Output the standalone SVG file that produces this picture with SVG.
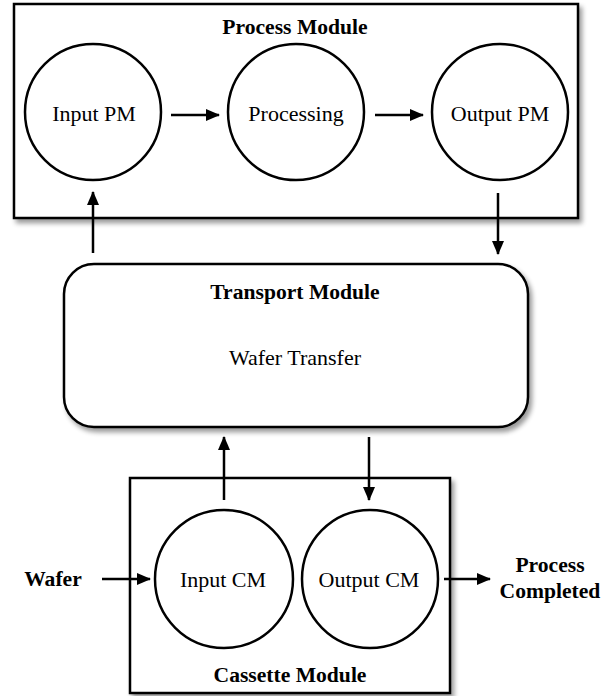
<svg xmlns="http://www.w3.org/2000/svg" width="615" height="696" viewBox="0 0 615 696">
  <style>
    .box { fill: #fff; stroke: #000; stroke-width: 2.5; }
    .node { fill: #fff; stroke: #000; stroke-width: 2.5; }
    text { font-family: 'Liberation Serif', 'Times New Roman', serif; font-size: 22px; fill: #000; text-anchor: middle; dominant-baseline: central; }
    .title { font-weight: bold; font-size: 21.6px; }
    .conn { stroke: #000; stroke-width: 2.5; fill: none; marker-end: url(#head); }
  </style>
  <defs>
    <filter id="shadow" x="-5%" y="-5%" width="115%" height="120%">
      <feGaussianBlur in="SourceAlpha" stdDeviation="2.5"/>
      <feOffset dx="3" dy="4" result="b"/>
      <feComponentTransfer><feFuncA type="linear" slope="0.4"/></feComponentTransfer>
      <feMerge><feMergeNode/><feMergeNode in="SourceGraphic"/></feMerge>
    </filter>
    <marker id="head" markerUnits="userSpaceOnUse" markerWidth="14" markerHeight="14" viewBox="0 0 14 14" refX="13" refY="7" orient="auto">
      <path d="M0,1 L14,7 L0,13 Z" fill="#000"/>
    </marker>
  </defs>

  <rect width="615" height="696" fill="#fff"/>

  <!-- Process module container -->
  <g id="process-module">
    <rect class="box" x="14" y="4" width="564" height="214" filter="url(#shadow)"/>
    <text class="title" x="295" y="27">Process Module</text>
  </g>
  <g id="input-pm">
    <ellipse class="node" cx="93" cy="112" rx="68" ry="68"/>
    <text x="94" y="113">Input PM</text>
  </g>
  <g id="processing">
    <ellipse class="node" cx="296" cy="112" rx="68" ry="68"/>
    <text x="296" y="113">Processing</text>
  </g>
  <g id="output-pm">
    <ellipse class="node" cx="500" cy="112" rx="68" ry="68"/>
    <text x="500" y="113">Output PM</text>
  </g>

  <!-- Transport module -->
  <g id="transport-module">
    <rect class="box" x="64" y="264" width="464" height="163" rx="30" ry="30" filter="url(#shadow)"/>
    <text class="title" x="295" y="292">Transport Module</text>
    <text x="295" y="357">Wafer Transfer</text>
  </g>

  <!-- Cassette module -->
  <g id="cassette-module">
    <rect class="box" x="130" y="478" width="320" height="215" filter="url(#shadow)"/>
    <text class="title" x="290" y="675">Cassette Module</text>
  </g>
  <g id="input-cm">
    <ellipse class="node" cx="224" cy="579" rx="69" ry="69"/>
    <text x="223" y="579">Input CM</text>
  </g>
  <g id="output-cm">
    <ellipse class="node" cx="370" cy="579" rx="68" ry="69"/>
    <text x="369" y="579">Output CM</text>
  </g>

  <!-- External labels -->
  <g id="wafer">
    <text class="title" x="53" y="579">Wafer</text>
  </g>
  <g id="process-completed">
    <text class="title" x="550" y="565">Process</text>
    <text class="title" x="550" y="591">Completed</text>
  </g>

  <!-- Connectors -->
  <g id="connectors">
    <line class="conn" x1="171" y1="115" x2="219" y2="115"/>
    <line class="conn" x1="375" y1="115" x2="423" y2="115"/>
    <line class="conn" x1="93" y1="253" x2="93" y2="192"/>
    <line class="conn" x1="498" y1="193" x2="498" y2="254"/>
    <line class="conn" x1="224" y1="500" x2="224" y2="437"/>
    <line class="conn" x1="369" y1="437" x2="369" y2="500"/>
    <line class="conn" x1="102" y1="579" x2="150" y2="579"/>
    <line class="conn" x1="444" y1="579" x2="490" y2="579"/>
  </g>
</svg>
